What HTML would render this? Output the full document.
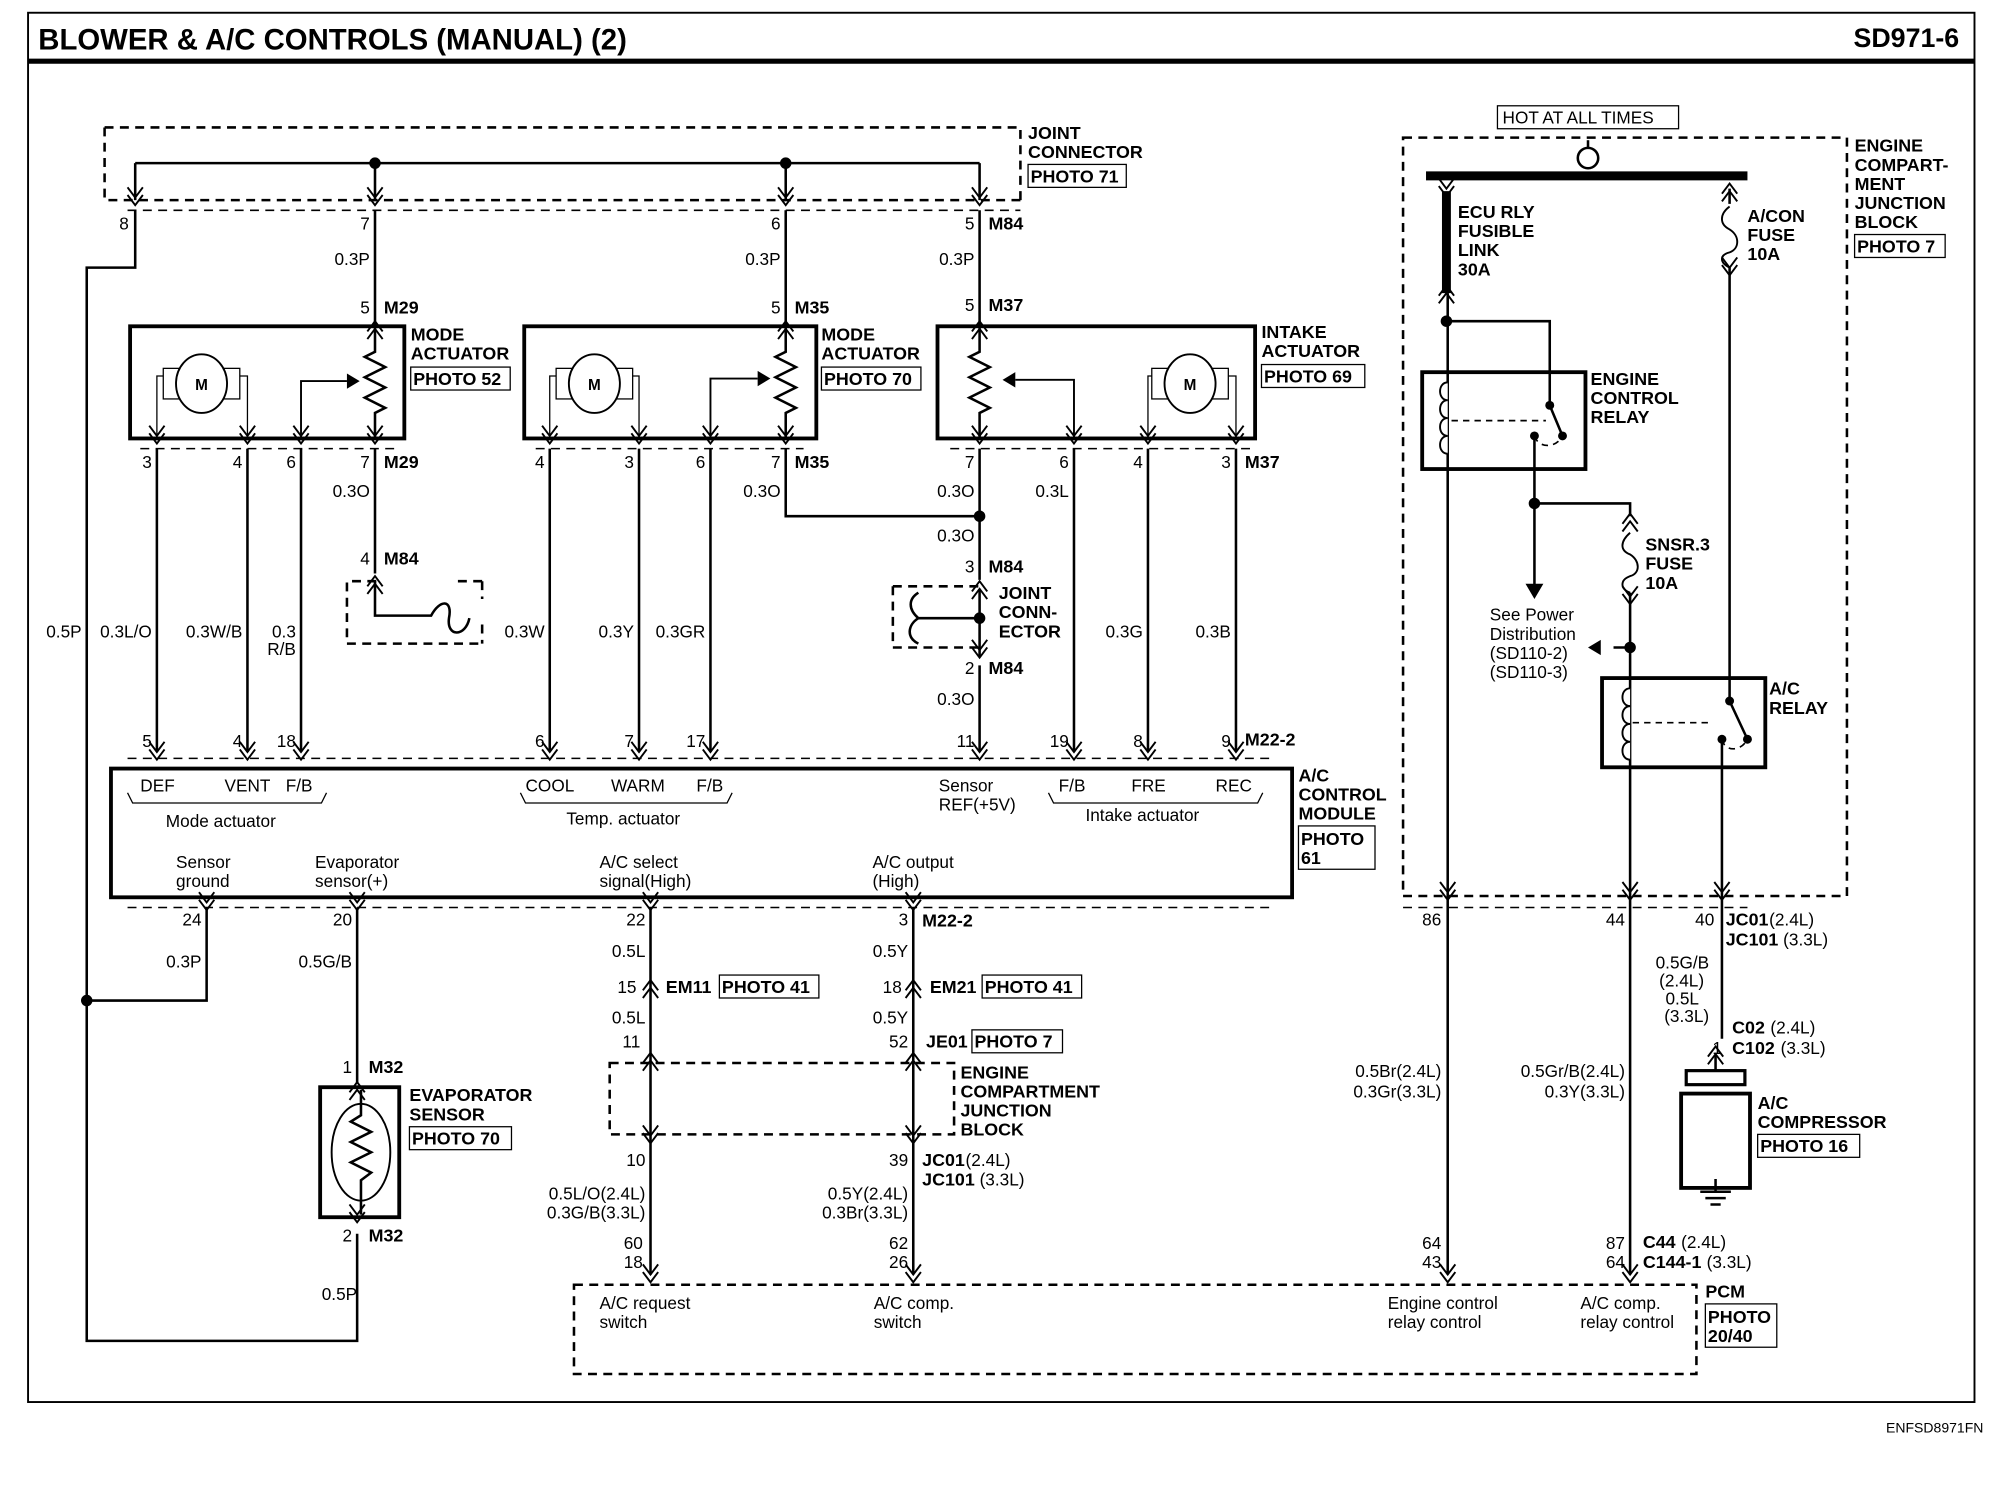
<!DOCTYPE html>
<html><head><meta charset="utf-8"><style>
html,body{margin:0;padding:0;background:#fff}
svg{display:block}
text{font-family:"Liberation Sans",Arial,sans-serif;fill:#000}
.b{font-weight:bold;font-size:14px}
.r{font-size:13.5px}
</style></head><body>
<svg width="2000" height="1504" viewBox="0 0 1568 1180" preserveAspectRatio="none" xmlns="http://www.w3.org/2000/svg">
<defs>
<path id="cd" d="M-6,-10 L0,-2 L6,-10 M-6,-4 L0,4 L6,-4" fill="none" stroke="#000" stroke-width="1.5"/>
<path id="cu" d="M-6,10 L0,2 L6,10 M-6,4 L0,-4 L6,4" fill="none" stroke="#000" stroke-width="1.5"/>
</defs>
<g fill="none" stroke="#000">
<rect x="22" y="10" width="1526" height="1090" stroke-width="1.5"/>
<line x1="22" y1="48" x2="1548" y2="48" stroke-width="4"/>
</g>
<text x="30" y="39" style="font-weight:bold;font-size:23px">BLOWER &amp; A/C CONTROLS (MANUAL) (2)</text>
<text x="1536" y="37" text-anchor="end" style="font-weight:bold;font-size:21px">SD971-6</text>
<text x="1555" y="1124" text-anchor="end" style="font-size:11px">ENFSD8971FN</text>

<!-- joint connector -->
<g fill="none" stroke="#000" stroke-width="2" stroke-dasharray="7,5">
<path d="M82,100 H800 V157 M82,100 V157 H800"/>
<line x1="100" y1="165" x2="800" y2="165" stroke-width="1.2"/>
<!-- actuator bottom dashed -->
<line x1="110" y1="352" x2="310" y2="352" stroke-width="1.2"/>
<line x1="420" y1="352" x2="630" y2="352" stroke-width="1.2"/>
<line x1="745" y1="352" x2="980" y2="352" stroke-width="1.2"/>
<line x1="100" y1="595" x2="1000" y2="595" stroke-width="1.2"/>
<line x1="100" y1="712" x2="1000" y2="712" stroke-width="1.2"/>
<line x1="1100" y1="712" x2="1370" y2="712" stroke-width="1.2"/>
<!-- M84 joint small -->
<path d="M295,456 H272 V505 H378 M378,490 V505 M378,456 H355 M378,456 V470"/>
<path d="M700,460 H770 M700,508 H770 M700,460 V508"/>
<!-- EC junction block lower -->
<path d="M478,834 H748 V890 H478 Z"/>
<!-- PCM -->
<path d="M450,1008 H1330 V1078 H450 Z"/>
<!-- engine compartment JB -->
<path d="M1100,108 H1448 V703 H1100 Z"/>
</g>
<g fill="none" stroke="#000" stroke-width="2">
<path d="M106,128 H768 M106,128 V157 M294,128 V157 M616,128 V157 M768,128 V157"/>
<path d="M106,165 V210 H68 V1052 H280 V968"/>
<path d="M68,785 H162 V712"/>
<path d="M294,165 V256 M616,165 V256 M768,165 V256"/>
<!-- actuator boxes -->
<rect x="102" y="256" width="215" height="88" stroke-width="3"/>
<rect x="411" y="256" width="229" height="88" stroke-width="3"/>
<rect x="735" y="256" width="249" height="88" stroke-width="3"/>
<!-- motors -->
<rect x="128" y="289" width="60" height="24" stroke-width="1"/>
<ellipse cx="158" cy="301" rx="20" ry="23" fill="#fff" stroke-width="1.5"/>
<rect x="436" y="289" width="60" height="24" stroke-width="1"/>
<ellipse cx="466" cy="301" rx="20" ry="23" fill="#fff" stroke-width="1.5"/>
<rect x="903" y="289" width="60" height="24" stroke-width="1"/>
<ellipse cx="933" cy="301" rx="20" ry="23" fill="#fff" stroke-width="1.5"/>
<path d="M128,295 H123 V344 M188,295 H194 V344 M436,295 H431 V344 M496,295 H501 V344 M903,295 H900 V344 M963,295 H969 V344" stroke-width="1"/>
<!-- resistors -->
<path d="M294,256 V276 L286,280 L302,288 L286,296 L302,304 L286,312 L302,320 L294,324 V344"/>
<path d="M616,256 V276 L608,280 L624,288 L608,296 L624,304 L608,312 L624,320 L616,324 V344"/>
<path d="M768,256 V276 L760,280 L776,288 L760,296 L776,304 L760,312 L776,320 L768,324 V344"/>
<path d="M236,344 V299 H272 M557,344 V297 H594 M842,344 V298 H796" stroke-width="1.5"/>
<!-- wires down -->
<path d="M123,352 V590 M194,352 V590 M236,352 V590 M294,352 V450 M294,456 V483 H338 C345,470 355,470 352,485 C350,500 365,500 368,485"/>
<path d="M431,352 V590 M501,352 V590 M557,352 V590 M616,352 V405 H768"/>
<path d="M768,352 V455 M768,462 V515 M768,522 V590 M768,485 H720 C712,478 712,470 720,465 M720,505 C710,500 712,490 720,485"/>
<path d="M842,352 V590 M900,352 V590 M969,352 V590"/>
<!-- module -->
<rect x="87" y="603" width="926" height="101" stroke-width="3"/>
<path d="M280,712 V850 M510,712 V1000 M716,712 V1000"/>
<!-- evaporator sensor -->
<rect x="251" y="853" width="62" height="102" stroke-width="3"/>
<ellipse cx="283" cy="904" rx="23" ry="38" stroke-width="1.5"/>
<path d="M283,855 V875 L275,880 L291,888 L275,896 L291,904 L275,912 L291,920 L283,926 V953"/>
<!-- right side -->
<line x1="1118" y1="138" x2="1370" y2="138" stroke-width="7"/>
<line x1="1245" y1="110" x2="1245" y2="116"/>
<circle cx="1245" cy="124" r="8" fill="#fff"/>
<line x1="1134" y1="150" x2="1134" y2="230" stroke-width="7"/>
<path d="M1135,230 V1000 M1135,252 H1215 V318 L1225,342"/>
<rect x="1115" y="292" width="128" height="76" stroke-width="3"/>
<path d="M1135,300 c-8,0 -8,14 0,14 c-8,0 -8,14 0,14 c-8,0 -8,14 0,14 c-8,0 -8,14 0,14" stroke-width="1.5" fill="#fff"/>
<path d="M1138,330 H1212 M1203,342 C1206,352 1220,352 1225,342" stroke-dasharray="5,4" stroke-width="1.3"/>
<path d="M1203,342 V465 M1203,395 H1278 V405 M1278,465 V1000 M1278,508 H1265"/>
<path d="M1278,418 C1270,425 1270,432 1278,435 C1286,440 1286,450 1278,452 C1270,455 1270,462 1278,465" stroke-width="1.5"/>
<rect x="1256" y="532" width="128" height="70" stroke-width="3"/>
<path d="M1278,540 c-8,0 -8,14 0,14 c-8,0 -8,14 0,14 c-8,0 -8,14 0,14 c-8,0 -8,14 0,14" stroke-width="1.5" fill="#fff"/>
<path d="M1280,567 H1340 M1350,580 C1352,590 1365,590 1370,580" stroke-dasharray="5,4" stroke-width="1.3"/>
<path d="M1356,148 V160 M1356,210 V550 L1370,580 M1350,580 V815 M1345,828 V840"/>
<path d="M1356,162 C1348,168 1348,176 1356,180 C1364,185 1364,195 1356,198 C1348,200 1348,206 1356,210" stroke-width="1.5"/>
<rect x="1322" y="840" width="46" height="11" stroke-width="2.5"/>
<rect x="1318" y="858" width="54" height="74" stroke-width="3"/>
<path d="M1345,925 V935 M1333,935 H1357 M1337,940 H1353 M1341,945 H1349"/>
</g>
<!-- arrowheads/dots -->
<g fill="#000">
<circle cx="294" cy="128" r="4.5"/><circle cx="616" cy="128" r="4.5"/>
<circle cx="768" cy="405" r="4.5"/><circle cx="768" cy="485" r="4.5"/>
<circle cx="68" cy="785" r="4.5"/>
<circle cx="1134" cy="252" r="4.5"/><circle cx="1203" cy="395" r="4.5"/><circle cx="1278" cy="508" r="4.5"/>
<circle cx="1215" cy="318" r="3.5"/><circle cx="1225" cy="342" r="3.5"/><circle cx="1203" cy="342" r="3.5"/>
<circle cx="1356" cy="550" r="3.5"/><circle cx="1370" cy="580" r="3.5"/><circle cx="1350" cy="580" r="3.5"/>
<path d="M272,293 L282,299 L272,305 Z M594,291 L604,297 L594,303 Z M796,292 L786,298 L796,304 Z"/>
<path d="M1196,458 L1210,458 L1203,470 Z M1255,502 L1255,514 L1245,508 Z"/>
</g>
<!-- chevrons -->
<g>
<use href="#cd" x="106" y="157"/><use href="#cd" x="294" y="157"/><use href="#cd" x="616" y="157"/><use href="#cd" x="768" y="157"/>
<use href="#cu" x="294" y="256"/><use href="#cu" x="616" y="256"/><use href="#cu" x="768" y="256"/>
<use href="#cd" x="123" y="344"/><use href="#cd" x="194" y="344"/><use href="#cd" x="236" y="344"/><use href="#cd" x="294" y="344"/>
<use href="#cd" x="431" y="344"/><use href="#cd" x="501" y="344"/><use href="#cd" x="557" y="344"/><use href="#cd" x="616" y="344"/>
<use href="#cd" x="768" y="344"/><use href="#cd" x="842" y="344"/><use href="#cd" x="900" y="344"/><use href="#cd" x="969" y="344"/>
<use href="#cu" x="294" y="456"/><use href="#cu" x="768" y="460"/><use href="#cd" x="768" y="512"/>
<use href="#cd" x="123" y="592"/><use href="#cd" x="194" y="592"/><use href="#cd" x="236" y="592"/><use href="#cd" x="431" y="592"/><use href="#cd" x="501" y="592"/><use href="#cd" x="557" y="592"/><use href="#cd" x="768" y="592"/><use href="#cd" x="842" y="592"/><use href="#cd" x="900" y="592"/><use href="#cd" x="969" y="592"/>
<use href="#cd" x="162" y="710"/><use href="#cd" x="280" y="710"/><use href="#cd" x="510" y="710"/><use href="#cd" x="716" y="710"/>
<use href="#cu" x="510" y="773"/><use href="#cu" x="716" y="773"/>
<use href="#cu" x="510" y="830"/><use href="#cu" x="716" y="830"/><use href="#cd" x="510" y="893"/><use href="#cd" x="716" y="893"/>
<use href="#cd" x="510" y="1002"/><use href="#cd" x="716" y="1002"/><use href="#cd" x="1135" y="1002"/><use href="#cd" x="1278" y="1002"/>
<use href="#cu" x="280" y="853"/><use href="#cd" x="280" y="955"/>
<use href="#cd" x="1134" y="150"/><use href="#cu" x="1134" y="228"/><use href="#cu" x="1356" y="148"/><use href="#cd" x="1356" y="212"/>
<use href="#cu" x="1278" y="407"/><use href="#cd" x="1278" y="470"/>
<use href="#cd" x="1135" y="702"/><use href="#cd" x="1278" y="702"/><use href="#cd" x="1350" y="702"/>
<use href="#cu" x="1345" y="825"/>
</g>
<!-- text -->
<g class="b">
<text x="806" y="109">JOINT</text><text x="806" y="124">CONNECTOR</text>
<text x="775" y="180">M84</text><text x="301" y="246">M29</text><text x="623" y="246">M35</text><text x="775" y="244">M37</text>
<text x="322" y="267">MODE</text><text x="322" y="282">ACTUATOR</text>
<text x="644" y="267">MODE</text><text x="644" y="282">ACTUATOR</text>
<text x="989" y="265">INTAKE</text><text x="989" y="280">ACTUATOR</text>
<text x="301" y="367">M29</text><text x="623" y="367">M35</text><text x="976" y="367">M37</text>
<text x="301" y="443">M84</text><text x="775" y="449">M84</text>
<text x="783" y="470">JOINT</text><text x="783" y="485">CONN-</text><text x="783" y="500">ECTOR</text>
<text x="775" y="529">M84</text><text x="976" y="585">M22-2</text>
<text x="1018" y="613">A/C</text><text x="1018" y="628">CONTROL</text><text x="1018" y="643">MODULE</text>
<text x="723" y="727">M22-2</text>
<text x="522" y="779">EM11</text><text x="729" y="779">EM21</text><text x="726" y="822">JE01</text>
<text x="753" y="846">ENGINE</text><text x="753" y="861">COMPARTMENT</text><text x="753" y="876">JUNCTION</text><text x="753" y="891">BLOCK</text>
<text x="289" y="842">M32</text><text x="321" y="864">EVAPORATOR</text><text x="321" y="879">SENSOR</text><text x="289" y="974">M32</text>
<text x="1143" y="171">ECU RLY</text><text x="1143" y="186">FUSIBLE</text><text x="1143" y="201">LINK</text><text x="1143" y="216">30A</text>
<text x="1370" y="174">A/CON</text><text x="1370" y="189">FUSE</text><text x="1370" y="204">10A</text>
<text x="1454" y="119">ENGINE</text><text x="1454" y="134">COMPART-</text><text x="1454" y="149">MENT</text><text x="1454" y="164">JUNCTION</text><text x="1454" y="179">BLOCK</text>
<text x="1247" y="302">ENGINE</text><text x="1247" y="317">CONTROL</text><text x="1247" y="332">RELAY</text>
<text x="1290" y="432">SNSR.3</text><text x="1290" y="447">FUSE</text><text x="1290" y="462">10A</text>
<text x="1387" y="545">A/C</text><text x="1387" y="560">RELAY</text>
<text x="1353" y="726">JC01</text><text x="1353" y="742">JC101</text>
<text x="1358" y="811">C02</text><text x="1358" y="827">C102</text>
<text x="1378" y="870">A/C</text><text x="1378" y="885">COMPRESSOR</text>
<text x="723" y="915">JC01</text><text x="723" y="930">JC101</text>
<text x="1288" y="979">C44</text><text x="1288" y="995">C144-1</text>
<text x="1337" y="1018">PCM</text>
</g>
<g class="r">
<text x="1353" y="726" dx="34">(2.4L)</text><text x="1353" y="742" dx="45">(3.3L)</text>
<text x="1358" y="811" dx="30">(2.4L)</text><text x="1358" y="827" dx="38">(3.3L)</text>
<text x="723" y="915" dx="34">(2.4L)</text><text x="723" y="930" dx="45">(3.3L)</text>
<text x="1288" y="979" dx="30">(2.4L)</text><text x="1288" y="995" dx="50">(3.3L)</text>
</g>
<g class="r" text-anchor="end">
<text x="101" y="180">8</text><text x="290" y="180">7</text><text x="612" y="180">6</text><text x="764" y="180">5</text>
<text x="290" y="208">0.3P</text><text x="612" y="208">0.3P</text><text x="764" y="208">0.3P</text>
<text x="290" y="246">5</text><text x="612" y="246">5</text><text x="764" y="244">5</text>
<text x="119" y="367">3</text><text x="190" y="367">4</text><text x="232" y="367">6</text><text x="290" y="367">7</text>
<text x="427" y="367">4</text><text x="497" y="367">3</text><text x="553" y="367">6</text><text x="612" y="367">7</text>
<text x="764" y="367">7</text><text x="838" y="367">6</text><text x="896" y="367">4</text><text x="965" y="367">3</text>
<text x="290" y="390">0.3O</text><text x="612" y="390">0.3O</text><text x="764" y="390">0.3O</text><text x="838" y="390">0.3L</text>
<text x="764" y="425">0.3O</text><text x="290" y="443">4</text><text x="764" y="449">3</text><text x="764" y="529">2</text><text x="764" y="553">0.3O</text>
<text x="64" y="500">0.5P</text><text x="119" y="500">0.3L/O</text><text x="190" y="500">0.3W/B</text><text x="232" y="500">0.3</text><text x="232" y="514">R/B</text>
<text x="427" y="500">0.3W</text><text x="497" y="500">0.3Y</text><text x="553" y="500">0.3GR</text><text x="896" y="500">0.3G</text><text x="965" y="500">0.3B</text>
<text x="119" y="586">5</text><text x="190" y="586">4</text><text x="232" y="586">18</text><text x="427" y="586">6</text><text x="497" y="586">7</text><text x="553" y="586">17</text><text x="764" y="586">11</text><text x="838" y="586">19</text><text x="896" y="586">8</text><text x="965" y="586">9</text>
<text x="158" y="726">24</text><text x="276" y="726">20</text><text x="506" y="726">22</text><text x="712" y="726">3</text>
<text x="158" y="759">0.3P</text><text x="276" y="759">0.5G/B</text><text x="506" y="751">0.5L</text><text x="712" y="751">0.5Y</text>
<text x="499" y="779">15</text><text x="707" y="779">18</text>
<text x="506" y="803">0.5L</text><text x="712" y="803">0.5Y</text><text x="502" y="822">11</text><text x="712" y="822">52</text>
<text x="506" y="915">10</text><text x="712" y="915">39</text>
<text x="506" y="941">0.5L/O(2.4L)</text><text x="506" y="956">0.3G/B(3.3L)</text><text x="712" y="941">0.5Y(2.4L)</text><text x="712" y="956">0.3Br(3.3L)</text>
<text x="504" y="980">60</text><text x="504" y="995">18</text><text x="712" y="980">62</text><text x="712" y="995">26</text>
<text x="276" y="842">1</text><text x="276" y="974">2</text><text x="280" y="1020">0.5P</text>
<text x="1130" y="726">86</text><text x="1274" y="726">44</text><text x="1344" y="726">40</text>
<text x="1340" y="760">0.5G/B</text><text x="1336" y="774">(2.4L)</text><text x="1332" y="788">0.5L</text><text x="1340" y="802">(3.3L)</text>
<text x="1350" y="827">1</text>
<text x="1130" y="845">0.5Br(2.4L)</text><text x="1130" y="861">0.3Gr(3.3L)</text><text x="1274" y="845">0.5Gr/B(2.4L)</text><text x="1274" y="861">0.3Y(3.3L)</text>
<text x="1130" y="980">64</text><text x="1130" y="995">43</text><text x="1274" y="980">87</text><text x="1274" y="995">64</text>
</g>
<g class="r">
<text x="110" y="621">DEF</text><text x="176" y="621">VENT</text><text x="224" y="621">F/B</text><text x="130" y="649">Mode actuator</text>
<text x="412" y="621">COOL</text><text x="479" y="621">WARM</text><text x="546" y="621">F/B</text><text x="444" y="647">Temp. actuator</text>
<text x="736" y="621">Sensor</text><text x="736" y="636">REF(+5V)</text>
<text x="830" y="621">F/B</text><text x="887" y="621">FRE</text><text x="953" y="621">REC</text><text x="851" y="644">Intake actuator</text>
<text x="138" y="681">Sensor</text><text x="138" y="696">ground</text><text x="247" y="681">Evaporator</text><text x="247" y="696">sensor(+)</text>
<text x="470" y="681">A/C select</text><text x="470" y="696">signal(High)</text><text x="684" y="681">A/C output</text><text x="684" y="696">(High)</text>
<text x="470" y="1027">A/C request</text><text x="470" y="1042">switch</text><text x="685" y="1027">A/C comp.</text><text x="685" y="1042">switch</text>
<text x="1088" y="1027">Engine control</text><text x="1088" y="1042">relay control</text><text x="1239" y="1027">A/C comp.</text><text x="1239" y="1042">relay control</text>
<text x="1168" y="487">See Power</text><text x="1168" y="502">Distribution</text><text x="1168" y="517">(SD110-2)</text><text x="1168" y="532">(SD110-3)</text>
<text x="1178" y="97">HOT AT ALL TIMES</text>
</g>
<!-- bracket lines under module labels -->
<g fill="none" stroke="#000" stroke-width="1">
<path d="M100,622 l4,8 H252 l4,-8 M408,622 l4,8 H570 l4,-8 M822,622 l4,8 H986 l4,-8"/>
<rect x="1174" y="83" width="142" height="18"/>
<rect x="806" y="129" width="77" height="18"/><rect x="322" y="288" width="78" height="18"/><rect x="644" y="288" width="78" height="18"/><rect x="989" y="286" width="81" height="18"/>
<rect x="1454" y="184" width="71" height="18"/><rect x="1018" y="648" width="60" height="34"/>
<rect x="564" y="765" width="78" height="18"/><rect x="770" y="765" width="78" height="18"/><rect x="762" y="808" width="71" height="18"/>
<rect x="321" y="884" width="80" height="18"/><rect x="1378" y="890" width="80" height="18"/><rect x="1337" y="1023" width="56" height="34"/>
</g>
<g class="b">
<text x="808" y="143">PHOTO 71</text><text x="324" y="302">PHOTO 52</text><text x="646" y="302">PHOTO 70</text><text x="991" y="300">PHOTO 69</text>
<text x="1456" y="198">PHOTO 7</text><text x="1020" y="663">PHOTO</text><text x="1020" y="678">61</text>
<text x="566" y="779">PHOTO 41</text><text x="772" y="779">PHOTO 41</text><text x="764" y="822">PHOTO 7</text>
<text x="323" y="898">PHOTO 70</text><text x="1380" y="904">PHOTO 16</text><text x="1339" y="1038">PHOTO</text><text x="1339" y="1053">20/40</text>
</g>
<g class="b" style="font-size:12px" text-anchor="middle">
<text x="158" y="306">M</text><text x="466" y="306">M</text><text x="933" y="306">M</text>
</g>
</svg>
</body></html>
